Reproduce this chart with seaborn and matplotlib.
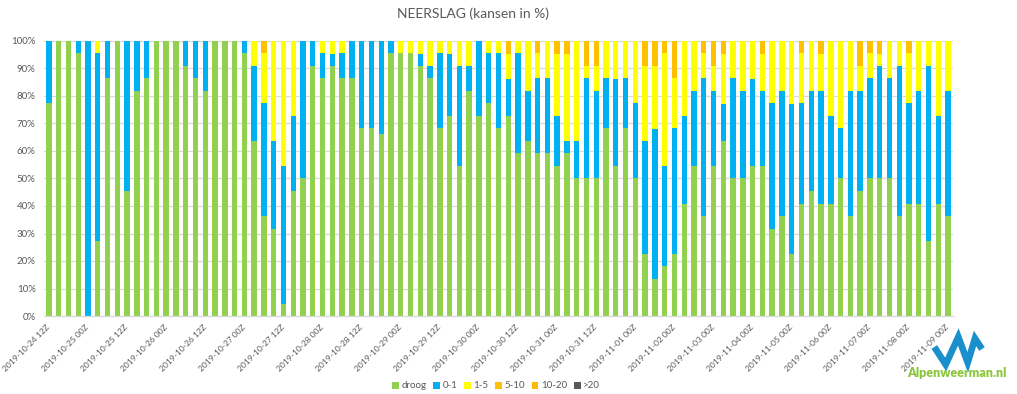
import numpy as np
import pandas as pd
import matplotlib
matplotlib.use("Agg")
import matplotlib.pyplot as plt
import seaborn as sns
from matplotlib.patches import Patch
from matplotlib.lines import Line2D

# ---------------- data ----------------
times = (list(pd.date_range("2019-10-24 12:00", "2019-11-01 00:00", freq="3h"))
         + list(pd.date_range("2019-11-01 06:00", "2019-11-09 00:00", freq="6h")))
categories = [t.strftime("%Y-%m-%d %HZ") for t in times]

series_names = ["droog", "0-1", "1-5", "5-10", "10-20", ">20"]

droog = [77.3, 100, 100, 95.5, 0, 27.3, 86.4, 100, 45.5, 81.8,
         86.4, 100, 100, 100, 90.9, 86.4, 81.8, 100, 100, 100,
         95.5, 63.6, 36.4, 31.8, 4.5, 45.5, 50.0, 90.9, 86.4, 90.9,
         86.4, 86.4, 68.2, 68.2, 66.2, 95.5, 95.5, 95.5, 90.9, 86.4,
         68.2, 72.7, 54.5, 81.8, 72.7, 77.3, 68.2, 72.7, 59.1, 63.6,
         59.1, 59.1, 54.5, 59.1, 50.0, 50.0, 50.0, 68.2, 54.5, 68.2,
         50.0, 22.7, 13.6, 18.2, 22.7, 40.9, 54.5, 36.4, 54.5, 63.6,
         50.0, 50.0, 54.5, 54.5, 31.8, 36.4, 22.7, 40.9, 45.5, 40.9,
         40.9, 50.0, 36.4, 45.5, 50.0, 50.0, 50.0, 36.4, 40.9, 40.9,
         27.3, 40.9, 36.4]

p0_1 = [22.7, 0, 0, 4.5, 100, 68.2, 13.6, 0, 54.5, 18.2,
        13.6, 0, 0, 0, 9.1, 13.6, 18.2, 0, 0, 0,
        4.5, 27.3, 40.9, 31.8, 50.0, 27.3, 50.0, 9.1, 9.1, 4.5,
        9.1, 13.6, 31.8, 31.8, 33.8, 4.5, 0, 0, 4.5, 4.5,
        27.3, 22.7, 36.4, 9.1, 27.3, 18.2, 27.3, 13.6, 36.4, 18.2,
        27.3, 27.3, 18.2, 4.5, 13.6, 36.4, 31.8, 18.2, 31.8, 18.2,
        27.3, 40.9, 54.5, 36.4, 45.5, 31.8, 27.3, 50.0, 27.3, 13.6,
        36.4, 31.8, 31.8, 27.3, 45.5, 45.5, 54.5, 36.4, 36.4, 40.9,
        31.8, 18.2, 45.5, 36.4, 36.4, 40.9, 36.4, 54.5, 36.4, 40.9,
        63.6, 31.8, 45.5]

p1_5 = [0, 0, 0, 0, 0, 4.5, 0, 0, 0, 0,
        0, 0, 0, 0, 0, 0, 0, 0, 0, 0,
        0, 9.1, 18.2, 36.4, 45.5, 27.3, 0, 0, 4.5, 4.5,
        4.5, 0, 0, 0, 0, 0, 4.5, 4.5, 4.5, 9.1,
        4.5, 4.5, 9.1, 9.1, 0, 4.5, 4.5, 9.1, 4.5, 18.2,
        9.1, 13.6, 22.7, 31.8, 36.4, 4.5, 9.1, 13.6, 13.6, 13.6,
        22.7, 27.3, 22.7, 40.9, 18.2, 27.3, 18.2, 9.1, 9.1, 18.2,
        13.6, 18.2, 13.6, 13.6, 22.7, 18.2, 22.7, 18.2, 18.2, 13.6,
        27.3, 31.8, 18.2, 9.1, 9.1, 4.5, 13.6, 9.1, 18.2, 18.2,
        9.1, 27.3, 18.2]

p5_10 = [0, 0, 0, 0, 0, 0, 0, 0, 0, 0,
         0, 0, 0, 0, 0, 0, 0, 0, 0, 0,
         0, 0, 4.5, 0, 0, 0, 0, 0, 0, 0,
         0, 0, 0, 0, 0, 0, 0, 0, 0, 0,
         0, 0, 0, 0, 0, 0, 0, 4.5, 0, 0,
         4.5, 0, 4.5, 4.5, 0, 9.1, 9.1, 0, 0, 0,
         0, 9.1, 9.1, 4.5, 13.6, 0, 0, 4.5, 9.1, 4.5,
         0, 0, 0, 4.5, 0, 0, 0, 4.5, 0, 4.5,
         0, 0, 0, 9.1, 4.5, 4.5, 0, 0, 4.5, 0,
         0, 0, 0]

p10_20 = [0] * 93
p20 = [0] * 93

colors = ["#92D050", "#00B0F0", "#FFFF00", "#FFC000", "#FFB900", "#595959"]

# ---------------- figure ----------------
sns.set_theme(style="white")
plt.rcParams['font.family'] = ['Lato', 'DejaVu Sans']

fig = plt.figure(figsize=(10.17, 3.94), dpi=100)
ax = fig.add_axes([44 / 1017, 1 - 316 / 394, (953 - 44) / 1017, 275 / 394])

stack = np.array([droog, p0_1, p1_5, p5_10, p10_20, p20], dtype=float)
cum = np.cumsum(stack, axis=0)

for i in reversed(range(len(series_names))):
    sns.barplot(x=categories, y=cum[i], order=categories, color=colors[i],
                saturation=1, width=0.55, errorbar=None, ax=ax,
                linewidth=0)

ax.set_ylim(0, 100)
ax.set_xlim(-0.5, len(categories) - 0.5)
ax.set_yticks(np.arange(0, 101, 10))
ax.set_yticklabels([f"{v}%" for v in range(0, 101, 10)])
ax.yaxis.grid(True, color="#D9D9D9", linewidth=0.9)
ax.xaxis.grid(False)
ax.set_axisbelow(True)

tick_idx = list(range(0, len(categories), 4))
ax.set_xticks(tick_idx)
ax.set_xticklabels([categories[i] for i in tick_idx], rotation=45, ha="right",
                   va="center", rotation_mode="anchor")
ax.tick_params(axis="x", length=0, pad=7, labelsize=6.1, labelcolor="#595959")
ax.tick_params(axis="y", length=0, pad=6, labelsize=7, labelcolor="#595959")
ax.set_xlabel("")
ax.set_ylabel("")
for s in ["top", "right", "left"]:
    ax.spines[s].set_visible(False)
ax.spines["bottom"].set_color("#D9D9D9")
ax.spines["bottom"].set_linewidth(0.9)

fig.text(473 / 1017, 1 - 14 / 394, "NEERSLAG (kansen in %)", ha="center",
         va="center", fontsize=10, color="#595959")

handles = [Patch(facecolor=c, edgecolor="none") for c in colors]
fig.legend(handles, series_names, loc="center", bbox_to_anchor=(496 / 1017, 1 - 386 / 394),
           ncol=6, frameon=False, fontsize=7, handlelength=0.7, handleheight=0.7,
           handletextpad=0.25, columnspacing=0.7, labelcolor="#595959")

# logo
pts = [(934.3, 347.0), (945.7, 364.5), (958.3, 337.0), (967.7, 362.5),
       (975.0, 338.5), (982.0, 349.0)]
fig.add_artist(Line2D([p[0] / 1017 for p in pts], [1 - p[1] / 394 for p in pts],
                      transform=fig.transFigure, color="#1B8FCB", linewidth=4.8,
                      solid_joinstyle="miter", solid_capstyle="butt"))
fig.text(957 / 1017, 1 - 373 / 394, "Alpenweerman.nl", ha="center", va="center",
         fontsize=9, fontweight="heavy", color="#8CC63F")

fig.savefig("out.png", dpi=100)
